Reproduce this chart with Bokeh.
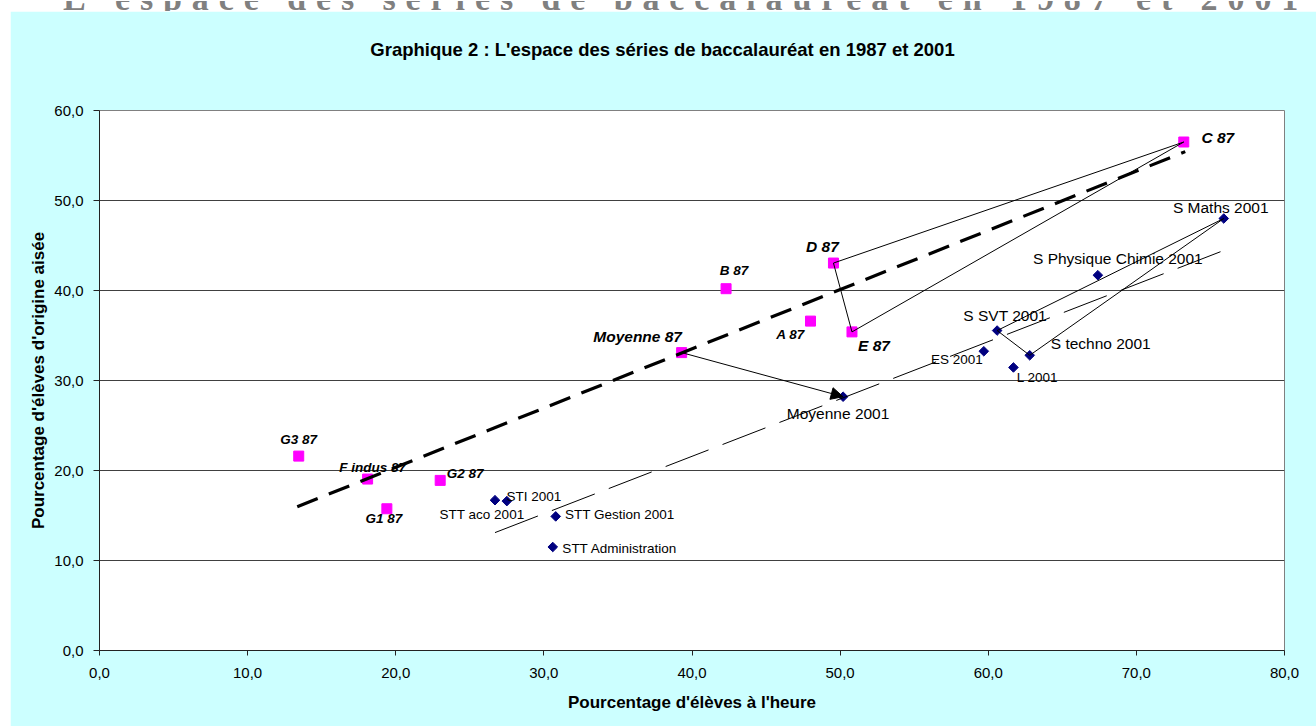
import numpy as np
from bokeh.plotting import figure
from bokeh.layouts import column
from bokeh.models import Range1d, FixedTicker, Title, Arrow, NormalHead, ColumnDataSource, Div
from bokeh.core.properties import value, field
from bokeh.embed import file_html
from bokeh.resources import INLINE

# ---------------- data ----------------
series87 = ["G3 87", "F indus 87", "G2 87", "G1 87", "B 87", "Moyenne 87",
            "A 87", "E 87", "D 87", "C 87"]
x87 = [13.45, 18.1, 23.0, 19.4, 42.3, 39.3, 48.0, 50.8, 49.55, 73.2]
y87 = [21.6, 19.05, 18.9, 15.75, 40.2, 33.1, 36.6, 35.4, 43.05, 56.5]

series01 = ["Moyenne 2001", "STI 2001", "STT aco 2001", "STT Gestion 2001",
            "STT Administration", "S Maths 2001", "S Physique Chimie 2001",
            "S SVT 2001", "S techno 2001", "ES 2001", "L 2001"]
x01 = [50.2, 27.5, 26.7, 30.8, 30.6, 75.9, 67.4, 60.6, 62.8, 59.7, 61.7]
y01 = [28.2, 16.6, 16.7, 14.9, 11.5, 48.0, 41.7, 35.55, 32.8, 33.25, 31.45]

trend87_x = [13.35, 73.3]
trend87_y = [15.98, 55.43]
trend01_x = [26.7, 75.9]
trend01_y = [13.1, 44.45]

triangle87 = ["C 87", "D 87", "E 87", "C 87"]
triangle01 = ["S Maths 2001", "S SVT 2001", "S techno 2001", "S Maths 2001"]
arrow_from = "Moyenne 87"
arrow_to = "Moyenne 2001"

x_ticks = [0, 10, 20, 30, 40, 50, 60, 70, 80]
x_tick_labels = ["0,0", "10,0", "20,0", "30,0", "40,0", "50,0", "60,0", "70,0", "80,0"]
y_ticks = [0, 10, 20, 30, 40, 50, 60]
y_tick_labels = ["0,0", "10,0", "20,0", "30,0", "40,0", "50,0", "60,0"]

page_heading = "L'espace des séries de baccalauréat en 1987 et 2001"
title_text = "Graphique 2 : L'espace des séries de baccalauréat en 1987 et 2001"
x_title = "Pourcentage d'élèves à l'heure"
y_title = "Pourcentage d'élèves d'origine aisée"

# ---------------- style (label placement, pixels) ----------------
FONT = "Liberation Sans"
off87 = {"G3 87": (0, -17), "F indus 87": (5, -12), "G2 87": (25, -7),
         "G1 87": (-3, 10), "B 87": (8, -18), "Moyenne 87": (-44, -16),
         "A 87": (-20, 13), "E 87": (22, 14), "D 87": (-11, -17), "C 87": (34, -5)}
big87 = {"Moyenne 87", "E 87", "D 87", "C 87"}
off01 = {"Moyenne 2001": (-5, 17), "STI 2001": (27, -5), "STT aco 2001": (-13, 14),
         "STT Gestion 2001": (64, -2), "STT Administration": (67, 1),
         "S Maths 2001": (-3, -11), "S Physique Chimie 2001": (20, -17),
         "S SVT 2001": (8, -15), "S techno 2001": (71, -12),
         "ES 2001": (-27, 8), "L 2001": (24, 10)}
big01 = {"Moyenne 2001", "S Maths 2001", "S Physique Chimie 2001", "S SVT 2001", "S techno 2001"}

src87 = ColumnDataSource(dict(
    x=x87, y=y87, t=series87,
    xo=[off87[s][0] for s in series87], yo=[off87[s][1] for s in series87],
    fs=["15.5px" if s in big87 else "13.5px" for s in series87]))
src01 = ColumnDataSource(dict(
    x=x01, y=y01, t=series01,
    xo=[off01[s][0] for s in series01], yo=[off01[s][1] for s in series01],
    fs=["15.5px" if s in big01 else "13.5px" for s in series01]))

p = figure(width=1306, height=715, x_range=Range1d(0, 80), y_range=Range1d(0, 60),
           output_backend="svg", toolbar_location=None, margin=(0, 0, 0, 10),
           min_border_left=89, min_border_right=32, min_border_top=99, min_border_bottom=76,
           background_fill_color="white", border_fill_color="#CCFFFF",
           outline_line_color="#808080", outline_line_width=1)

# axes
for ax, ticks, labels in ((p.xaxis, x_ticks, x_tick_labels), (p.yaxis, y_ticks, y_tick_labels)):
    ax.ticker = FixedTicker(ticks=ticks)
    ax.major_label_overrides = {t: l for t, l in zip(ticks, labels)}
    ax.minor_tick_line_color = None
    ax.major_tick_in = 0
    ax.major_tick_out = 5
    ax.axis_line_color = "#222222"
    ax.major_tick_line_color = "#222222"
    ax.major_label_text_font = FONT
    ax.major_label_text_font_size = "15px"
    ax.major_label_text_color = "black"
    ax.axis_label_text_font = FONT
    ax.axis_label_text_font_style = "bold"
    ax.axis_label_text_font_size = "17px"
    ax.axis_label_text_color = "black"
p.xaxis.axis_label = x_title
p.yaxis.axis_label = y_title
p.xaxis.major_label_standoff = 12
p.yaxis.major_label_standoff = 10
p.xaxis.axis_label_standoff = 12
p.yaxis.axis_label_standoff = 3
p.yaxis.major_tick_out = 6

p.xgrid.grid_line_color = None
p.ygrid.ticker = FixedTicker(ticks=[10, 20, 30, 40, 50])
p.ygrid.grid_line_color = "#404040"
p.ygrid.grid_line_width = 1

# markers
p.scatter("x", "y", source=src87, marker="square", size=10,
          fill_color="#FF00FF", line_color="#FF00FF")
p.scatter("x", "y", source=src01, marker="square", size=6.8, angle=np.pi / 4,
          fill_color="#000080", line_color="#000080")

# labels
p.text("x", "y", text="t", source=src87, x_offset="xo", y_offset="yo",
       text_font=value(FONT), text_font_style="bold italic", text_font_size=field("fs"),
       text_align="center", text_baseline="middle", text_color="black")
p.text("x", "y", text="t", source=src01, x_offset="xo", y_offset="yo",
       text_font=value(FONT), text_font_style="normal", text_font_size=field("fs"),
       text_align="center", text_baseline="middle", text_color="black")

# trend lines
p.line(trend87_x, trend87_y, line_color="black", line_width=3.2, line_dash="22 12")
p.line(trend01_x, trend01_y, line_color="black", line_width=1, line_dash="46 15")

# triangles
i87 = {s: i for i, s in enumerate(series87)}
i01 = {s: i for i, s in enumerate(series01)}
p.line([x87[i87[s]] for s in triangle87], [y87[i87[s]] for s in triangle87],
       line_color="black", line_width=1)
p.line([x01[i01[s]] for s in triangle01], [y01[i01[s]] for s in triangle01],
       line_color="black", line_width=1)

# arrow between averages
p.add_layout(Arrow(end=NormalHead(size=12, fill_color="black", line_color="black", line_width=1),
                   x_start=x87[i87[arrow_from]], y_start=y87[i87[arrow_from]],
                   x_end=x01[i01[arrow_to]], y_end=y01[i01[arrow_to]],
                   line_color="black", line_width=1))

# spacing panel between frame and chart title, then the chart title
p.add_layout(Title(text=" ", text_font=FONT, text_font_size="10px", standoff=36,
                   text_color="#CCFFFF"), "above")
p.add_layout(Title(text=title_text, align="left", offset=270.8, vertical_align="top",
                   standoff=0, text_font=FONT, text_font_style="bold",
                   text_font_size="18.5px", text_color="black"), "above")

# page heading (cut off at top of the page)
head_html = (
    "<div style=\"position:relative;width:1316px;height:11px;overflow:hidden;background:white;\">"
    "<span style=\"position:absolute;left:63px;top:-19px;font-family:'Liberation Serif';"
    "font-weight:bold;font-size:34px;line-height:34px;letter-spacing:9.9px;color:#808080;"
    "white-space:nowrap;\">" + page_heading + "</span></div>")
head = Div(text=head_html, width=1316, height=11, margin=(0, 0, 0, 0),
           styles={"overflow": "hidden"})

page = column(head, p, spacing=0)

open("out.html", "w").write(file_html(page, INLINE))
